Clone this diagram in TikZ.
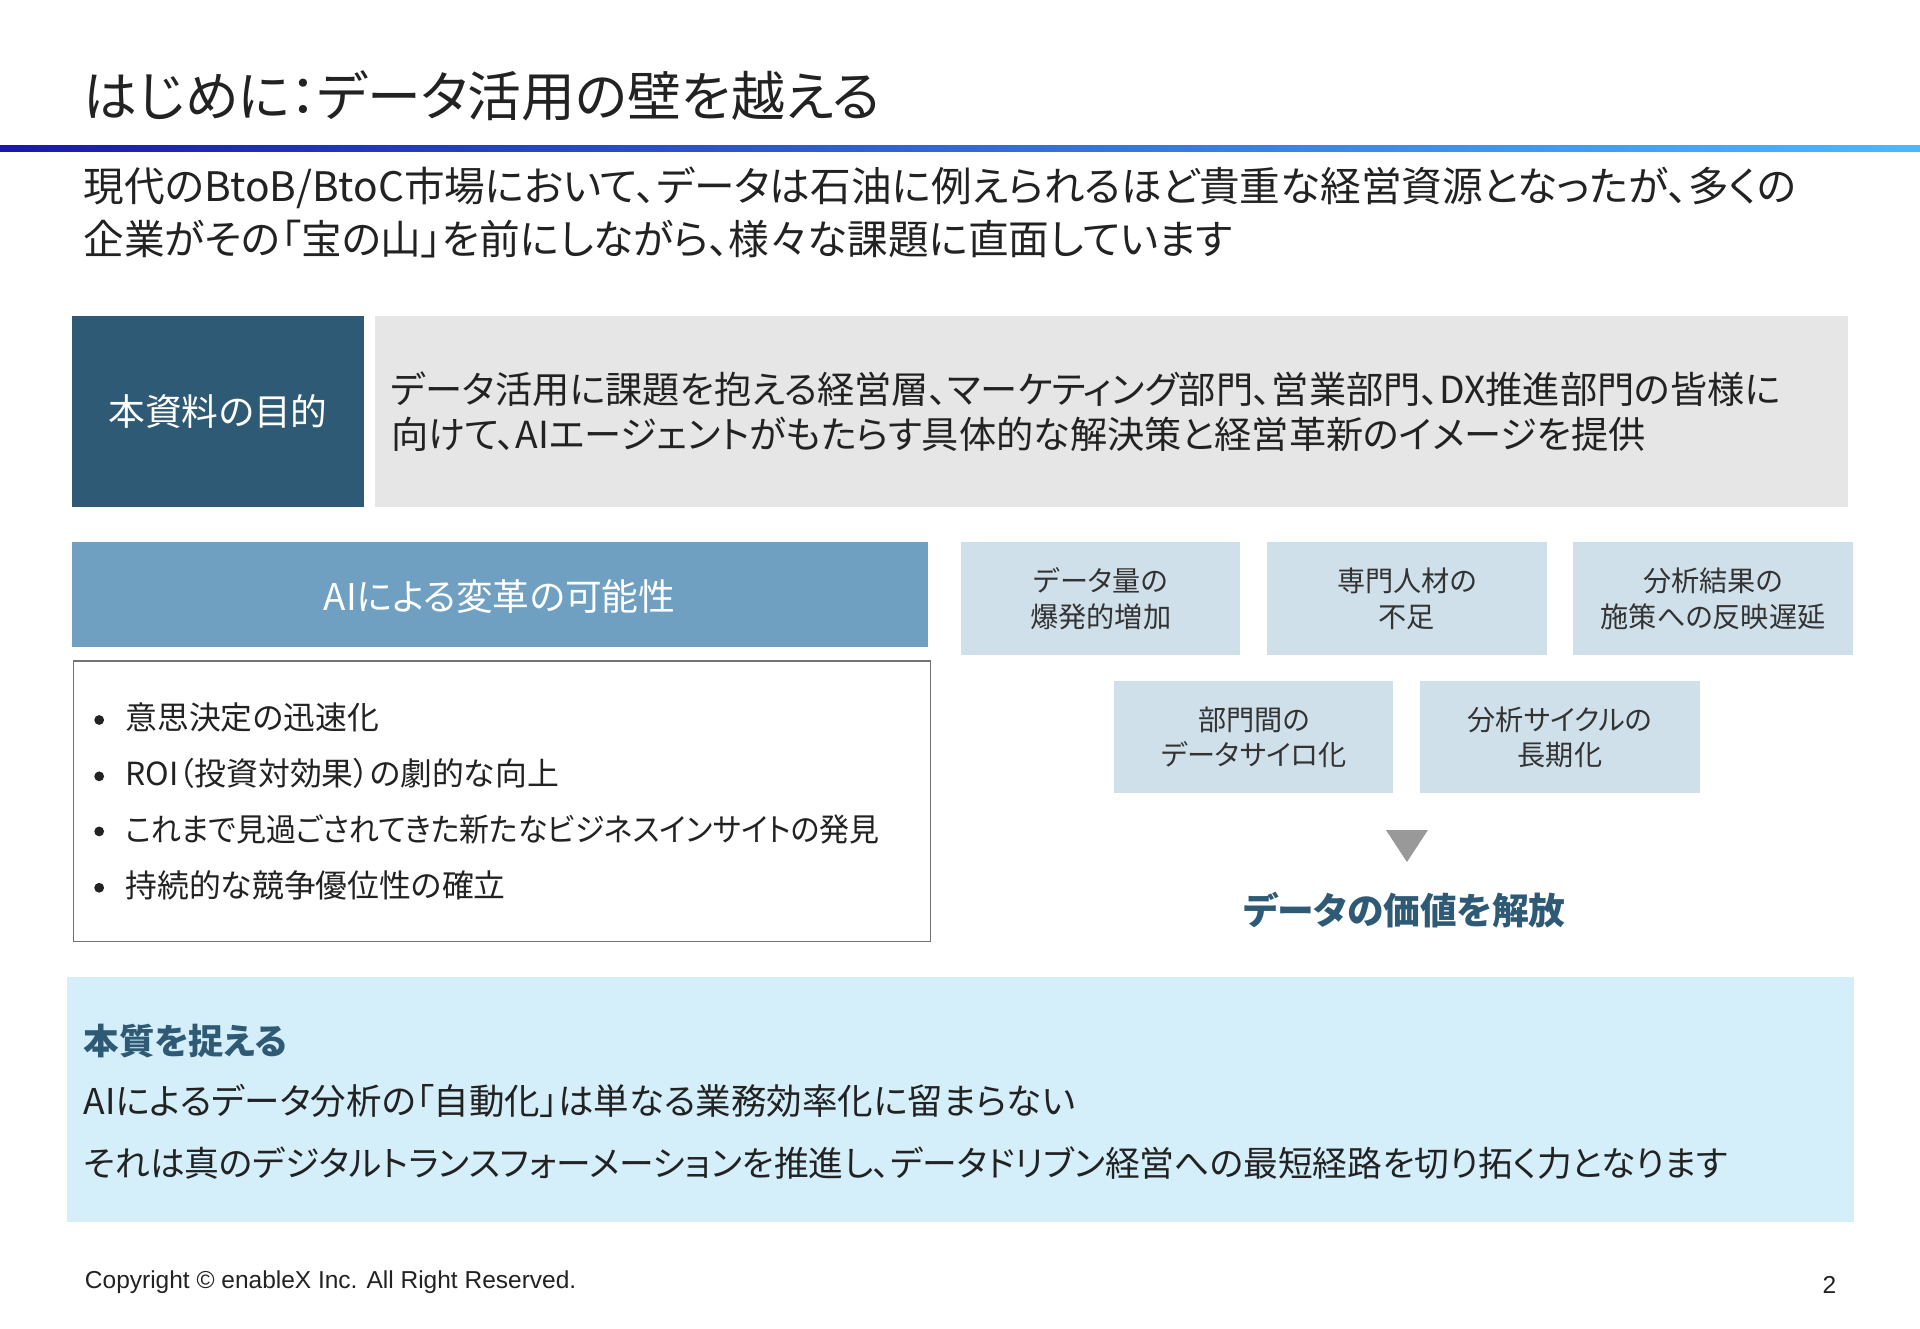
\documentclass[tikz,border=0pt]{standalone}
\usepackage{fontspec}
\setmainfont[RawFeature=+palt]{Noto Sans CJK JP}
\newfontfamily\cpfont{Liberation Sans}
\definecolor{navy}{HTML}{2F5A75}
\definecolor{greybox}{HTML}{E6E6E6}
\definecolor{headblue}{HTML}{6FA0C2}
\definecolor{smallbox}{HTML}{D0E0EA}
\definecolor{bottombox}{HTML}{D4EEFA}
\definecolor{txt}{HTML}{222222}
\begin{document}
\begin{tikzpicture}[x=0.5pt,y=-0.5pt,
  every node/.style={inner sep=0pt,text=txt},
  chal/.style={fill=smallbox,draw=none},
  chaltext/.style={align=center,font=\fontsize{11.5}{14.5}\selectfont,text=black!80},
  bul/.style={anchor=west,font=\fontsize{13}{16}\selectfont}]
\useasboundingbox (0,0) rectangle (1568,1085);
\fill[white] (0,0) rectangle (1568,1085);
\node[anchor=base west,font=\fontsize{22}{26}\selectfont] (title) at (68,95) {はじめに：データ活用の壁を越える};
\shade[left color=blue!60!black!90,right color=cyan!60!blue!70] (0,119) rectangle (1568,124);
\node[anchor=north west,align=left,font=\fontsize{16.6}{21.5}\selectfont] (intro) at (68,136) {現代のBtoB/BtoC市場において、データは石油に例えられるほど貴重な経営資源となったが、多くの\\企業がその「宝の山」を前にしながら、様々な課題に直面しています};
\fill[navy] (59,258) rectangle (297,414);
\node[text=white,font=\fontsize{15}{18}\selectfont] (purp) at (178,336) {本資料の目的};
\fill[greybox] (306,258) rectangle (1509,414);
\node[anchor=west,align=left,font=\fontsize{15.2}{18.5}\selectfont] (purptext) at (319,336) {データ活用に課題を抱える経営層、マーケティング部門、営業部門、DX推進部門の皆様に\\向けて、AIエージェントがもたらす具体的な解決策と経営革新のイメージを提供};
\fill[headblue] (59,443) rectangle (758,528);
\node[text=white,font=\fontsize{15}{18}\selectfont] (aihead) at (408,487) {AIによる変革の可能性};
\draw[black!55,line width=0.6pt] (60,540) rectangle (760,769);
\foreach \y/\t [count=\i] in {586/意思決定の迅速化,632/ROI（投資対効果）の劇的な向上,677/\scalebox{0.94}[1]{これまで見過ごされてきた新たなビジネスインサイトの発見},723/持続的な競争優位性の確立}{
  \fill[txt] (81,\y+2) circle (4);
  \node[bul] (b\i) at (102,\y) {\t};
}
\fill[chal] (785,443) rectangle (1013,535);
\node[chaltext] (c1) at (899,489) {データ量の\\爆発的増加};
\fill[chal] (1035,443) rectangle (1263,535);
\node[chaltext] (c2) at (1149,489) {専門人材の\\不足};
\fill[chal] (1285,443) rectangle (1513,535);
\node[chaltext] (c3) at (1399,489) {分析結果の\\施策への反映遅延};
\fill[chal] (910,556) rectangle (1138,648);
\node[chaltext] (c4) at (1024,602) {部門間の\\データサイロ化};
\fill[chal] (1160,556) rectangle (1388,648);
\node[chaltext] (c5) at (1274,602) {分析サイクルの\\長期化};
\fill[black!40] (1132,678) -- (1166,678) -- (1149,704) -- cycle;
\node[text=navy,font=\bfseries\fontsize{15}{18}\selectfont] (val) at (1147,743) {データの価値を解放};
\fill[bottombox] (55,798) rectangle (1514,998);
\node[anchor=west,text=navy,font=\bfseries\fontsize{14.5}{18}\selectfont] (ess) at (68,850) {本質を捉える};
\node[anchor=west,font=\fontsize{14.5}{18}\selectfont] (l2) at (68,899) {AIによるデータ分析の「自動化」は単なる業務効率化に留まらない};
\node[anchor=west,font=\fontsize{14.2}{18}\selectfont] (l3) at (68,950) {それは真のデジタルトランスフォーメーションを推進し、データドリブン経営への最短経路を切り拓く力となります};
\node[anchor=west,font=\cpfont\fontsize{10}{12}\selectfont] (copy) at (69,1047) {Copyright © enableX Inc. All Right Reserved.};
\node[font=\cpfont\fontsize{10}{12}\selectfont] (pg) at (1494,1049) {2};
\end{tikzpicture}
\end{document}
